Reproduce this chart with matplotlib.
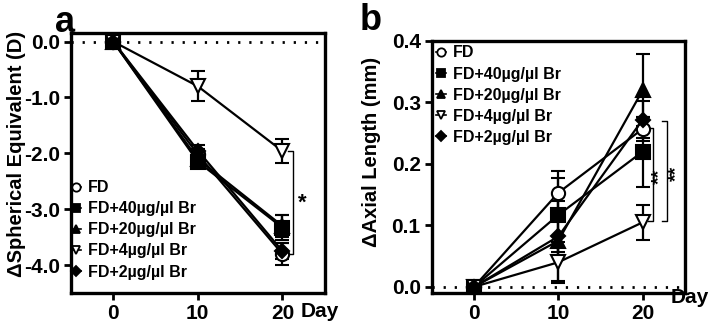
import matplotlib
matplotlib.use("Agg")
import matplotlib.pyplot as plt
from matplotlib.lines import Line2D

# data
days = [0, 10, 20]
groups = ["FD", "FD+40µg/µl Br", "FD+20µg/µl Br", "FD+4µg/µl Br", "FD+2µg/µl Br"]
markers = ["o", "s", "^", "v", "D"]
filled = [False, True, True, False, True]

se_mean = [
    [0, -2.02, -3.80],
    [0, -2.15, -3.33],
    [0, -2.10, -3.30],
    [0, -0.80, -1.96],
    [0, -1.95, -3.75],
]
se_err = [
    [0, 0.10, 0.20],
    [0, 0.12, 0.23],
    [0, 0.10, 0.20],
    [0, 0.27, 0.21],
    [0, 0.10, 0.15],
]
al_mean = [
    [0, 0.153, 0.257],
    [0, 0.117, 0.220],
    [0, 0.075, 0.320],
    [0, 0.040, 0.105],
    [0, 0.082, 0.272],
]
al_err = [
    [0, 0.036, 0.020],
    [0, 0.060, 0.057],
    [0, 0.065, 0.058],
    [0, 0.033, 0.028],
    [0, 0.030, 0.030],
]

NARROW = ["Liberation Sans Narrow", "Liberation Sans", "DejaVu Sans"]
WIDE = ["Liberation Sans", "DejaVu Sans"]
plt.rcParams["font.family"] = NARROW
plt.rcParams["font.weight"] = "bold"

fig = plt.figure(figsize=(7.09, 3.22), dpi=100)
axa = fig.add_axes([0.100, 0.090, 0.358, 0.807])
axb = fig.add_axes([0.609, 0.090, 0.357, 0.783])


def draw(ax, means, errs, day_x, day_y):
    for i in range(len(groups)):
        fc = "black" if filled[i] else "white"
        ms = 7.5 if markers[i] == "D" else 9.5
        ax.errorbar(days, means[i], yerr=errs[i], color="black", lw=1.6,
                    marker=markers[i], ms=ms, mfc=fc, mec="black", mew=1.5,
                    capsize=5, capthick=1.6, elinewidth=1.6, zorder=3)
    ax.axhline(0, color="black", lw=2, ls=(0, (0.8, 3.2)), zorder=1)
    ax.set_xlim(-5, 25)
    ax.set_xticks(days)
    for s in ax.spines.values():
        s.set_linewidth(2.4)
    ax.tick_params(width=2, length=5, labelsize=15, pad=3)
    for lab in ax.get_xticklabels() + ax.get_yticklabels():
        lab.set_fontweight("bold")
    ax.text(day_x, day_y, "Day", transform=ax.transAxes, ha="center",
            va="center", fontsize=15, fontweight="bold")


def legend(ax, loc, anchor):
    handles = []
    for i in range(len(groups)):
        fc = "black" if filled[i] else "white"
        ms = 5 if markers[i] == "D" else 6
        handles.append(Line2D([], [], color="black", lw=1.2, marker=markers[i],
                              ms=ms, mfc=fc, mec="black", mew=1.3))
    ax.legend(handles, groups, loc=loc, bbox_to_anchor=anchor, frameon=False,
              handlelength=0.6, handletextpad=0.45, labelspacing=0.38,
              borderaxespad=0.2, prop={"size": 11.5, "weight": "bold"})


draw(axa, se_mean, se_err, 0.98, -0.072)
axa.set_ylim(-4.5, 0.15)
axa.set_yticks([0, -1, -2, -3, -4])
axa.set_yticklabels(["0.0", "-1.0", "-2.0", "-3.0", "-4.0"])
axa.set_ylabel("ΔSpherical Equivalent (D)", fontsize=14.5, fontweight="bold",
               family=WIDE)
axa.yaxis.set_label_coords(-0.178, 0.535)
legend(axa, "lower left", (-0.035, 0.015))
axa.plot([20.7, 21.3, 21.3, 20.7], [-1.96, -1.96, -3.80, -3.80],
         color="black", lw=1, clip_on=False)
axa.text(22.4, -2.9, "*", fontsize=16, fontweight="bold", ha="center",
         va="center", clip_on=False)

draw(axb, al_mean, al_err, 1.02, -0.018)
axb.set_ylim(-0.01, 0.4)
axb.set_yticks([0, 0.1, 0.2, 0.3, 0.4])
axb.set_yticklabels(["0.0", "0.1", "0.2", "0.3", "0.4"])
axb.set_ylabel("ΔAxial Length (mm)", fontsize=14.5, fontweight="bold",
               family=WIDE)
axb.yaxis.set_label_coords(-0.2, 0.56)
legend(axb, "upper left", (-0.02, 1.02))
axb.plot([20.6, 21.2, 21.2, 20.6], [0.258, 0.258, 0.107, 0.107],
         color="black", lw=1, clip_on=False)
axb.plot([22.3, 22.9, 22.9, 22.3], [0.270, 0.270, 0.107, 0.107],
         color="black", lw=1, clip_on=False)
axb.text(22.0, 0.18, "**", fontsize=14, fontweight="bold", rotation=90,
         ha="center", va="center", clip_on=False)
axb.text(24.0, 0.185, "**", fontsize=14, fontweight="bold", rotation=90,
         ha="center", va="center", clip_on=False)

fig.text(0.078, 0.901, "a", fontsize=26, fontweight="bold", va="baseline")
fig.text(0.507, 0.907, "b", fontsize=26, fontweight="bold", va="baseline")

fig.savefig("out.png", dpi=100)
